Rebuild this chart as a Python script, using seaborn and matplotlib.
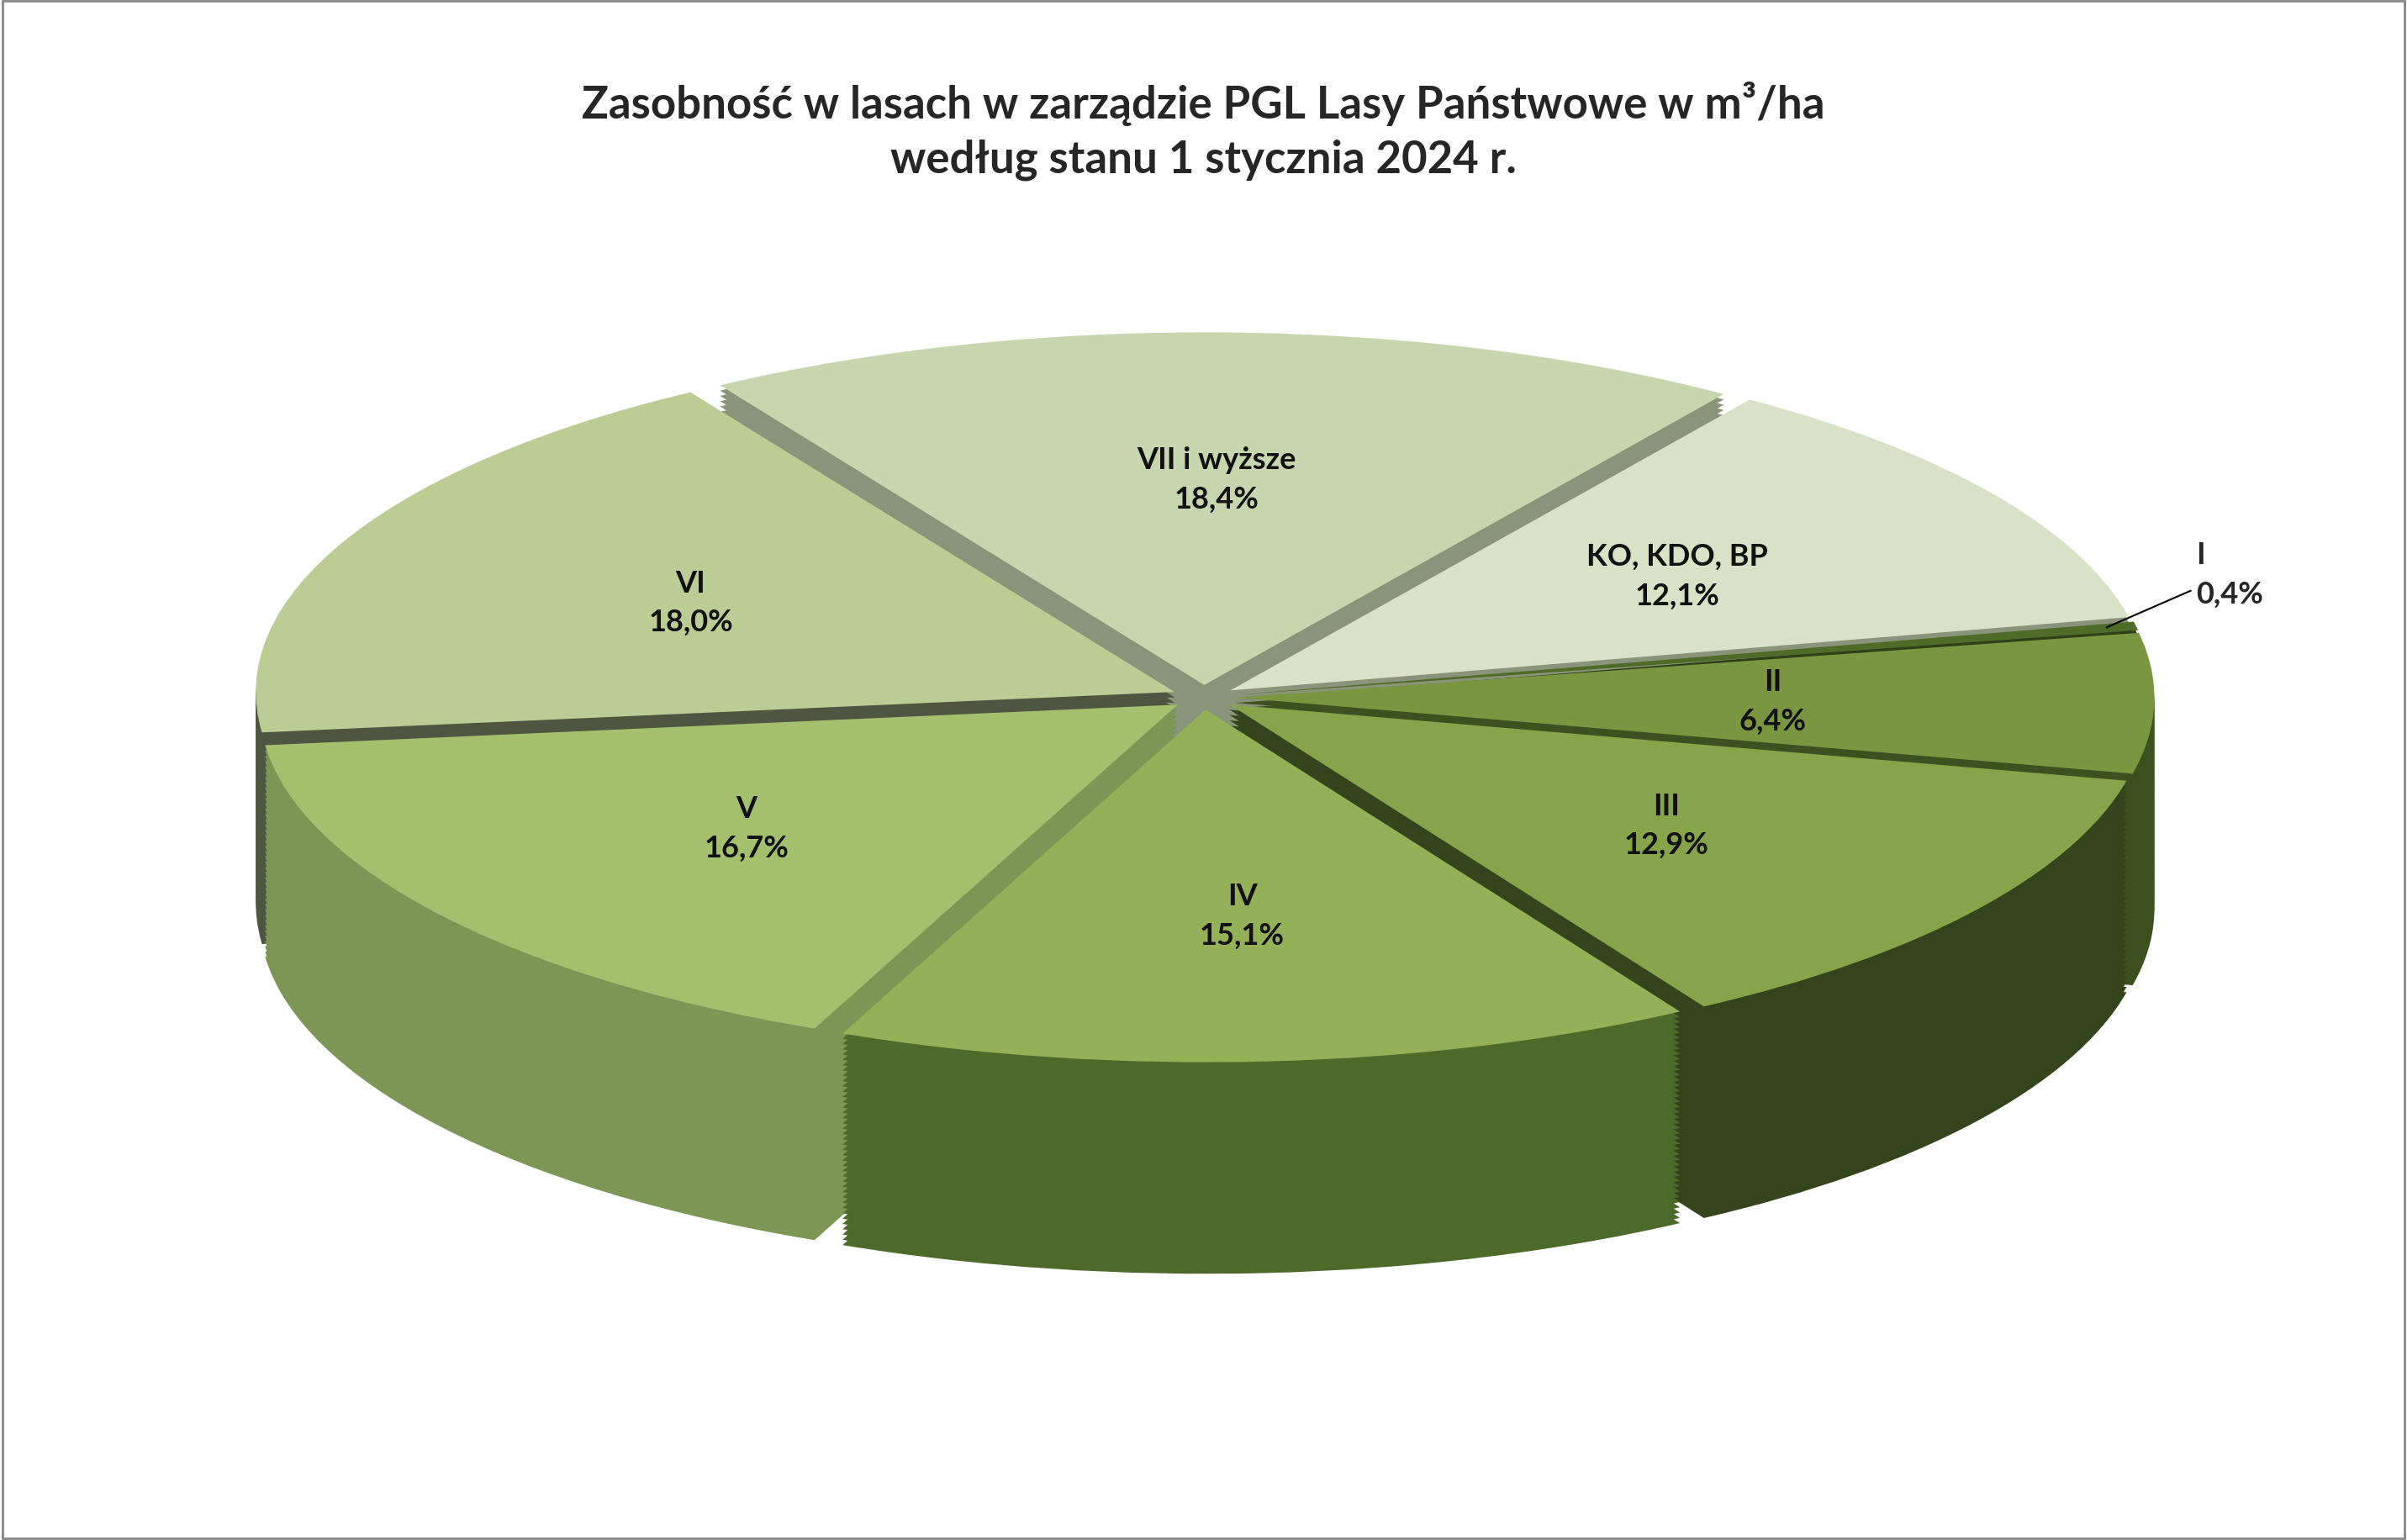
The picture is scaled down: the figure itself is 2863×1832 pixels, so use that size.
import matplotlib
matplotlib.use("Agg")
import matplotlib.pyplot as plt
import seaborn as sns
import numpy as np
from matplotlib.patches import Rectangle

sns.set_theme(style="white")
plt.rcParams['font.family'] = ['Lato', 'DejaVu Sans']

# Dane
categories = ['I', 'II', 'III', 'IV', 'V', 'VI', 'VII i wyższe', 'KO, KDO, BP']
shares = [0.4, 6.4, 12.9, 15.1, 16.7, 18.0, 18.4, 12.1]
top_colors = ['#4f6b28', '#7a9641', '#87a44b', '#94b158', '#a4c06f', '#bbcc94', '#c8d6af', '#d9e2c6']
side_colors = ['#2f4018', '#3d5020', '#34441d', '#4e6a2a', '#7d9656', '#4e5540', '#8a947a', '#8a947a']

start = 12
explode = [0.035] * len(shares)

fig = plt.figure(figsize=(28.63, 18.33), dpi=100)
ax = fig.add_axes([0, 0, 1, 1])
ax.set_xlim(-1.31, 1.31)
ax.set_ylim(-2.39, 1.98)
ax.axis('off')

# boki (stos przesuniętych tortów)
depth = 0.6
steps = 40
for k in range(steps, 0, -1):
    dz = depth * k / steps
    ax.pie(shares, colors=side_colors, startangle=start, counterclock=False,
           explode=explode, center=(0, -dz), radius=1.0,
           wedgeprops=dict(linewidth=0), frame=True)

# wierzch
wedges, _ = ax.pie(shares, colors=top_colors, startangle=start, counterclock=False,
                   explode=explode, center=(0, 0), radius=1.0,
                   wedgeprops=dict(linewidth=0), frame=True)
ax.set_aspect('auto')
ax.set_xlim(-1.31, 1.31)
ax.set_ylim(-2.39, 1.98)
ax.axis('off')

# etykiety
for i, w in enumerate(wedges):
    mid = np.deg2rad((w.theta1 + w.theta2) / 2)
    pct = f"{shares[i]:.1f}".replace('.', ',') + '%'
    if categories[i] == 'I':
        x0, y0 = 1.0 * np.cos(mid), 1.0 * np.sin(mid)
        ax.annotate(f"{categories[i]}\n{pct}", xy=(x0, y0), xytext=(1.08, 0.35),
                    ha='left', va='center', fontsize=26, fontweight='bold',
                    arrowprops=dict(arrowstyle='-', color='black', lw=1.5),
                    linespacing=1.5)
        continue
    r = 0.62
    ax.text(r * np.cos(mid), r * np.sin(mid), f"{categories[i]}\n{pct}",
            ha='center', va='center', fontsize=26, fontweight='bold',
            color='#111111', linespacing=1.5)

fig.text(0.5, 0.915, "Zasobność w lasach w zarządzie PGL Lasy Państwowe w m³/ha\nwedług stanu 1 stycznia 2024 r.",
         ha='center', va='center', fontsize=38, fontweight='bold', linespacing=1.4)

fig.patches.append(Rectangle((0.001, 0.001), 0.998, 0.998, transform=fig.transFigure,
                             fill=False, edgecolor='#888888', lw=2))

fig.savefig("out.png", dpi=100)
